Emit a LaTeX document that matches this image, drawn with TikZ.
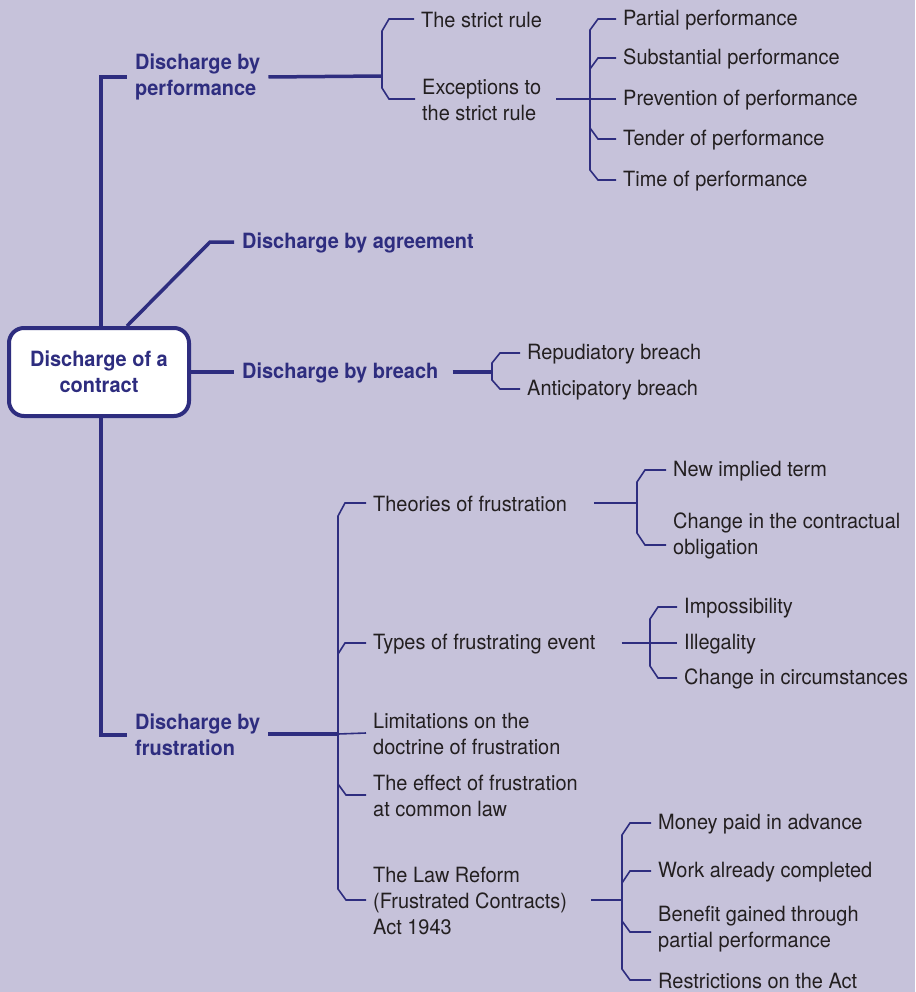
\documentclass[tikz,border=0pt]{standalone}
\usepackage{fontspec}
\setmainfont[FakeStretch=0.95]{TeX Gyre Heros}
\definecolor{bgcol}{HTML}{C6C2DA}
\definecolor{navy}{HTML}{2E2D7F}
\definecolor{ink}{HTML}{231F20}
\begin{document}
\begin{tikzpicture}[x=1pt,y=-1pt,
  txt/.style={font=\fontsize{21}{26}\selectfont, align=left, inner ysep=0pt, yshift=-1pt},
  mainbr/.style={txt, font=\fontsize{21}{26}\selectfont\bfseries, text=navy, inner xsep=8pt, anchor=west},
  leaf/.style={txt, text=ink, inner xsep=7pt, anchor=west},
  rootbox/.style={draw=navy, line width=4pt, rounded corners=15pt, fill=white,
    minimum width=180pt, minimum height=88pt, align=center, text=navy,
    font=\fontsize{21}{26}\selectfont\bfseries},
  thickl/.style={draw=navy, line width=3.5pt},
  thinl/.style={draw=navy, line width=1.6pt, line join=miter},
]
\fill[bgcol] (0,0) rectangle (915,992);
\useasboundingbox (0,0) rectangle (915,992);

% central topic
\node[rootbox] (root) at (99,372) {Discharge of a\\contract};

% main branches
\node[mainbr] (perf) at (127,76) {Discharge by\\performance};
\node[mainbr] (agr) at (234,242) {Discharge by agreement};
\node[mainbr] (breach) at (234,372) {Discharge by breach};
\node[mainbr] (frus) at (127,734) {Discharge by\\frustration};

\coordinate (agrbend) at (210,242);
\draw[thickl] ([xshift=2pt]root.north) |- (perf.west);
\draw[thickl] ([xshift=28pt]root.north) -- (agrbend) -- (agrbend -| agr.west);
\draw[thickl] (root.east) -- (root.east -| breach.west);
\draw[thickl] ([xshift=2pt]root.south) |- (frus.west);

% performance
\node[leaf] (strict) at (414,19) {The strict rule};
\node[leaf] (exc) at (415,99) {Exceptions to\\the strict rule};
\node[leaf] (partial) at (616,19) {Partial performance};
\node[leaf] (subst) at (616,58) {Substantial performance};
\node[leaf] (prev) at (616,99) {Prevention of performance};
\node[leaf] (tender) at (616,139) {Tender of performance};
\node[leaf] (time) at (616,180) {Time of performance};

\coordinate (pb) at (382,76);
\draw[thickl] (perf.east) -- (pb);
\draw[thinl] ([yshift=1pt]strict.west) -- (389,19) -- (382,31) -- (382,88) -- (389,99) -- ([yshift=1pt]exc.west);
\draw[thinl] ([xshift=8pt,yshift=1pt]exc.east) -- ([yshift=1pt]prev.west);
\draw[thinl] ([yshift=1pt]partial.west) -- (598,19) -- (590,30) -- (590,170) -- (598,180) -- ([yshift=1pt]time.west);
\draw[thinl] ([yshift=1pt]subst.west) -- (598,58) -- (590,69);
\draw[thinl] ([yshift=1pt]tender.west) -- (598,139) -- (590,128);

% breach
\node[leaf] (repud) at (520,353) {Repudiatory breach};
\node[leaf] (antic) at (520,389) {Anticipatory breach};
\coordinate (bb) at (492,372);
\draw[thickl] ([xshift=6pt,yshift=1pt]breach.east) -- (bb);
\draw[thinl] ([yshift=1pt]repud.west) -- (500,353) -- (492,363) -- (492,380) -- (500,389) -- ([yshift=1pt]antic.west);

% frustration
\node[leaf] (theories) at (366,503) {Theories of frustration};
\node[leaf] (types) at (366,643) {Types of frustrating event};
\node[leaf] (limits) at (366,733) {Limitations on the\\doctrine of frustration};
\node[leaf] (effect) at (366,795) {The effect of frustration\\at common law};
\node[leaf] (lawref) at (366,900) {The Law Reform\\(Frustrated Contracts)\\Act 1943};

\coordinate (fb) at (338,734);
\draw[thickl] ([yshift=1pt]frus.east) -- (fb);
\draw[thinl] (fb) -- ([yshift=1pt]limits.west);
\draw[thinl] ([yshift=1pt]theories.west) -- (345,503) -- (338,516) -- (338,889) -- (346,900) -- ([yshift=1pt]lawref.west);
\draw[thinl] ([yshift=1pt]types.west) -- (345,643) -- (338,654);
\draw[thinl] ([yshift=1pt]effect.west) -- (346,795) -- (338,784);

% theories of frustration
\node[leaf] (newterm) at (666,470) {New implied term};
\node[leaf] (change) at (666,535) {Change in the contractual\\obligation};
\draw[thinl] ([xshift=20pt,yshift=1pt]theories.east) -- (637,503);
\draw[thinl] ([yshift=1pt]newterm.west) -- (645,470) -- (637,482) -- (637,533) -- (645,545) -- ([yshift=-9pt]change.west);

% types of frustrating event
\node[leaf] (imposs) at (677,607) {Impossibility};
\node[leaf] (illeg) at (677,643) {Illegality};
\node[leaf] (circ) at (677,678) {Change in circumstances};
\draw[thinl] ([xshift=19pt,yshift=1pt]types.east) -- ([yshift=1pt]illeg.west);
\draw[thinl] ([yshift=1pt]imposs.west) -- (658,607) -- (650,619) -- (650,666) -- (658,678) -- ([yshift=1pt]circ.west);

% the 1943 Act
\node[leaf] (money) at (651,823) {Money paid in advance};
\node[leaf] (work) at (651,871) {Work already completed};
\node[leaf] (benefit) at (651,928) {Benefit gained through\\partial performance};
\node[leaf] (restr) at (651,980) {Restrictions on the Act};
\draw[thinl] ([xshift=17pt,yshift=1pt]lawref.east) -- (622,900);
\draw[thinl] ([yshift=1pt]money.west) -- (630,823) -- (622,835) -- (622,969) -- (630,980) -- ([yshift=1pt]restr.west);
\draw[thinl] ([yshift=1pt]work.west) -- (630,871) -- (622,883);
\draw[thinl] ([yshift=-3pt]benefit.west) -- (630,932) -- (622,921);
\end{tikzpicture}
\end{document}
